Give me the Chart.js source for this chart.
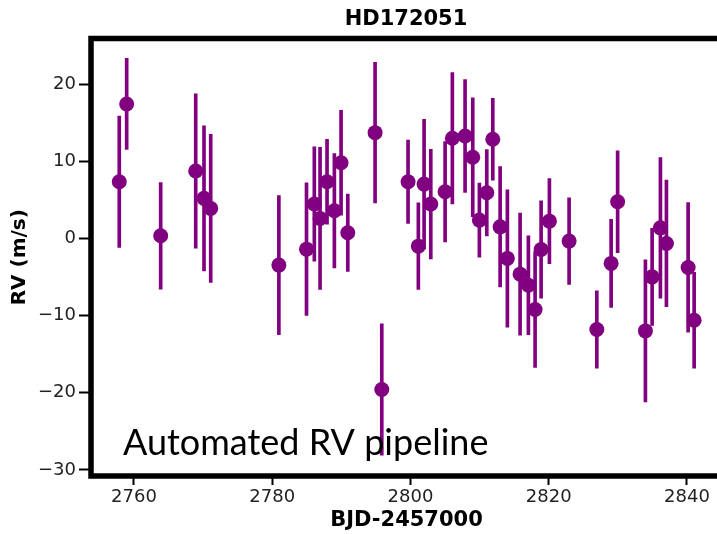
<!DOCTYPE html>
<html lang="en">
<head>
  <meta charset="UTF-8">
  <title>HD172051</title>
  <style>
    html, body {
      margin: 0;
      padding: 0;
      overflow: hidden;
      background: #fff;
    }
    #wrap {
      width: 812px;
      height: 534px;
    }
  </style>
</head>
<body>
  <div id="wrap"><canvas id="rvChart" width="812" height="534"></canvas></div>

  <script src="https://cdn.jsdelivr.net/npm/chart.js"></script>
  <script>
    // observation times (BJD-2457000), radial velocities and 1-sigma errors (m/s)
    var times = [2757.87, 2758.94, 2763.86, 2768.93, 2770.13, 2771.10, 2780.96, 2784.96, 2786.09, 2786.92,
                 2787.93, 2788.99, 2789.96, 2790.93, 2794.88, 2795.85, 2799.65, 2801.14, 2801.97, 2802.94,
                 2805.01, 2806.06, 2807.90, 2809.01, 2809.97, 2811.04, 2811.91, 2812.97, 2814.02, 2815.86,
                 2817.06, 2818.03, 2818.90, 2820.10, 2822.95, 2826.96, 2829.03, 2829.97, 2833.99, 2834.96,
                 2836.16, 2837.03, 2840.17, 2841.04];
    var rv = [7.34, 17.42, 0.34, 8.73, 5.19, 3.89, -3.46, -1.39, 4.45, 2.59,
              7.34, 3.58, 9.81, 0.73, 13.70, -19.58, 7.34, -1.0, 7.04, 4.45,
              6.04, 12.97, 13.27, 10.51, 2.37, 5.91, 12.84, 1.50, -2.59, -4.63,
              -6.06, -9.21, -1.43, 2.24, -0.35, -11.80, -3.24, 4.75, -11.98, -4.98,
              1.37, -0.65, -3.76, -10.60];
    var rvErr = [8.5, 5.9, 6.9, 10.0, 9.4, 9.6, 9.0, 8.6, 7.4, 9.2,
                 5.5, 7.4, 6.8, 5.0, 9.1, 8.5, 5.4, 5.6, 8.4, 7.1,
                 6.5, 8.5, 7.3, 7.7, 4.8, 5.6, 5.3, 7.8, 8.9, 7.9,
                 6.4, 7.5, 6.3, 5.5, 5.6, 5.0, 5.7, 6.6, 9.2, 6.3,
                 9.1, 8.2, 8.4, 6.2];

    var xTicks = [2760, 2780, 2800, 2820, 2840];
    var yTicks = [-30, -20, -10, 0, 10, 20];
    var noteText = 'Automated RV pipeline';

    var purple = '#800080';

    var points = times.map(function (t, i) { return { x: t, y: rv[i] }; });
    var errBars = times.map(function (t, i) { return { x: t, y: [rv[i] - rvErr[i], rv[i] + rvErr[i]] }; });

    // black box round the plot area
    var frame = {
      id: 'frame',
      afterDatasetsDraw: function (chart) {
        var ctx = chart.ctx, a = chart.chartArea;
        ctx.save();
        ctx.lineWidth = 5.5;
        ctx.strokeStyle = '#000';
        ctx.strokeRect(a.left, a.top, a.right - a.left, a.bottom - a.top);
        ctx.restore();
      }
    };

    // the big caption inside the plot
    var note = {
      id: 'note',
      afterDraw: function (chart) {
        var ctx = chart.ctx, a = chart.chartArea;
        ctx.save();
        ctx.font = '36px Lato';
        ctx.fillStyle = '#000';
        ctx.textBaseline = 'alphabetic';
        ctx.fillText(noteText, a.left + 32, a.bottom - 21);
        ctx.restore();
      }
    };

    var tickFont = { family: 'DejaVu Sans', size: 18 };
    var labelFont = { family: 'DejaVu Sans', size: 21, weight: 'bold' };

    new Chart(document.getElementById('rvChart'), {
      type: 'scatter',
      data: {
        datasets: [
          {
            data: points,
            backgroundColor: purple,
            borderWidth: 0,
            pointRadius: 7.5,
            order: 0
          },
          {
            type: 'bar',
            data: errBars,
            backgroundColor: purple,
            barThickness: 3,
            borderWidth: 0,
            order: 1
          }
        ]
      },
      plugins: [frame, note],
      options: {
        responsive: false,
        animation: false,
        layout: { padding: 0 },
        plugins: {
          legend: { display: false },
          tooltip: { enabled: false },
          title: {
            display: true,
            text: 'HD172051',
            color: '#000',
            font: labelFont,
            padding: { top: 7, bottom: 6.3 }
          }
        },
        scales: {
          x: {
            type: 'linear',
            min: 2753.78,
            max: 2845.07,
            offset: false,
            afterBuildTicks: function (s) { s.ticks = xTicks.map(function (v) { return { value: v }; }); },
            afterFit: function (s) { s.height = 58; },
            border: { display: false },
            grid: { offset: false, drawOnChartArea: false, drawTicks: true, tickLength: 9, tickWidth: 2, tickColor: '#000' },
            ticks: { font: tickFont, color: '#222', padding: 2, maxRotation: 0, callback: function (v) { return String(v); } },
            title: { display: true, text: 'BJD-2457000', color: '#000', font: labelFont, padding: { top: 0, bottom: 1 } }
          },
          y: {
            type: 'linear',
            min: -30.78,
            max: 25.9,
            afterBuildTicks: function (s) { s.ticks = yTicks.map(function (v) { return { value: v }; }); },
            afterFit: function (s) { s.width = 91; },
            border: { display: false },
            grid: { drawOnChartArea: false, drawTicks: true, tickLength: 12, tickWidth: 2, tickColor: '#000' },
            ticks: { font: tickFont, color: '#222', padding: 3, callback: function (v) { return String(v).replace('-', '\u2212'); } },
            title: { display: true, text: 'RV (m/s)', color: '#000', font: { family: 'DejaVu Sans', size: 20, weight: 'bold' }, padding: { top: 8, bottom: 0 } }
          },
          // empty right-hand box so the plot stops where the reference crops it
          yRight: {
            type: 'linear',
            position: 'right',
            min: -30.78,
            max: 25.9,
            afterFit: function (s) { s.width = 90; },
            border: { display: false },
            grid: { display: false, drawOnChartArea: false },
            ticks: { display: false }
          }
        }
      }
    });
  </script>
</body>
</html>
